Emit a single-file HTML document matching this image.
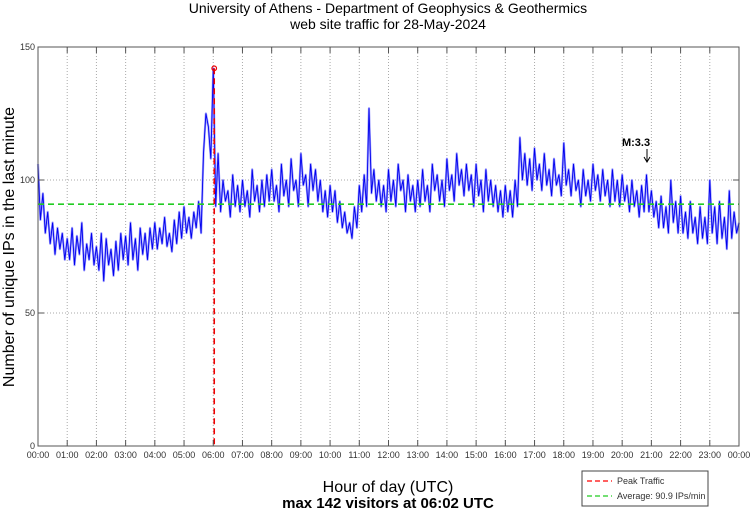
<!DOCTYPE html>
<html><head><meta charset="utf-8"><style>
body{margin:0;background:#fff;width:750px;height:511px;overflow:hidden;font-family:"Liberation Sans",sans-serif}
svg text{font-family:"Liberation Sans",sans-serif}
</style></head><body>
<svg id="chart" width="750" height="511" viewBox="0 0 750 511" xmlns="http://www.w3.org/2000/svg">
<text x="388" y="13" font-size="14" text-anchor="middle" fill="#000">University of Athens - Department of Geophysics &amp; Geothermics</text>
<text x="388" y="29" font-size="14" text-anchor="middle" fill="#000">web site traffic for 28-May-2024</text>
<text transform="translate(14,247) rotate(-90)" font-size="16" text-anchor="middle" fill="#000">Number of unique IPs in the last minute</text>
<text x="388" y="492" font-size="16" text-anchor="middle" fill="#000">Hour of day (UTC)</text>
<text x="388" y="508" font-size="15" font-weight="bold" text-anchor="middle" fill="#000">max 142 visitors at 06:02 UTC</text>
<g id="grid"></g>
<g id="series"></g>
<g id="overlay"></g>
<g id="axes"></g>
<g>
<rect x="582" y="471" width="126" height="35" fill="#fff" stroke="#444" stroke-width="1"/>
<line x1="587" y1="481" x2="612" y2="481" stroke="#f00" stroke-width="1.2" stroke-dasharray="5,3"/>
<text x="617" y="484" font-size="9" fill="#333">Peak Traffic</text>
<line x1="587" y1="496" x2="612" y2="496" stroke="#2c2" stroke-width="1.2" stroke-dasharray="5,3"/>
<text x="617" y="499" font-size="9" fill="#333">Average: 90.9 IPs/min</text>
</g>
<text x="636" y="146" font-size="11" font-weight="bold" text-anchor="middle" fill="#000">M:3.3</text>
<line x1="647" y1="149" x2="647" y2="161" stroke="#000" stroke-width="1"/>
<path d="M644,157 L647,162 L650,157" fill="none" stroke="#000" stroke-width="1"/>
</svg>
<script>
const hourLabels=["00:00","01:00","02:00","03:00","04:00","05:00","06:00","07:00","08:00","09:00","10:00","11:00","12:00","13:00","14:00","15:00","16:00","17:00","18:00","19:00","20:00","21:00","22:00","23:00","00:00"];
const yTicks=[0,50,100,150];
const visitors=[
106,85,95,80,88,76,84,72,82,74,80,70,
78,70,82,68,79,72,84,66,76,70,80,68,
75,66,80,62,78,68,74,64,77,66,80,70,
79,68,84,70,78,66,82,72,80,70,82,74,
84,74,82,76,86,75,80,73,85,76,88,78,
90,80,86,78,88,82,92,80,110,125,120,108,
142,90,110,88,100,92,96,86,102,90,98,88,
100,90,96,86,104,92,98,88,100,90,102,92,
104,92,98,88,106,94,100,90,108,96,100,90,
110,98,102,90,106,96,104,92,100,88,96,86,
98,88,96,84,92,82,88,80,84,78,90,82,
98,88,102,90,127,95,104,92,100,90,98,88,
104,92,100,90,106,96,100,88,102,92,98,88,
100,90,104,92,98,88,106,96,102,92,100,90,
108,96,102,92,110,98,104,94,106,96,102,90,
106,94,100,88,104,92,100,90,98,88,96,86,
98,88,96,86,100,90,116,100,110,98,108,96,
112,100,106,96,110,98,104,94,108,98,102,94,
114,98,104,94,106,96,100,90,104,94,100,92,
106,96,102,92,104,94,100,90,104,92,100,90,
102,92,98,88,100,90,96,86,98,88,102,88,
96,86,92,82,94,82,90,80,100,84,92,80,
94,80,88,78,92,80,86,76,90,78,86,76,
100,80,90,76,92,78,86,74,96,78,88,80,84];
const stepMinutes=5;
const peakValue=142;
const peakHour=6+2/60;
const averageValue=90.9;

const X0=38,X1=739,Y0=446,Y1=47;
const xs=h=>X0+(X1-X0)*h/24;
const ys=v=>Y0-(Y0-Y1)*v/150;
const NS="http://www.w3.org/2000/svg";
function mk(tag,attrs,parent){const e=document.createElementNS(NS,tag);for(const k in attrs)e.setAttribute(k,attrs[k]);parent.appendChild(e);return e;}
const grid=document.getElementById('grid'),axes=document.getElementById('axes'),series=document.getElementById('series'),overlay=document.getElementById('overlay');
hourLabels.forEach((lab,i)=>{
  const x=xs(i);
  if(i>0&&i<24){const g=mk('line',{x1:x,y1:Y1,x2:x,y2:Y0,stroke:'#aaa','stroke-width':1,'stroke-dasharray':'1,2'},grid);
  
  }
  mk('line',{x1:x,y1:Y0,x2:x,y2:Y0-6,stroke:'#555','stroke-width':1},axes);
  mk('line',{x1:x,y1:Y1,x2:x,y2:Y1+6,stroke:'#555','stroke-width':1},axes);
  const t=mk('text',{x:x,y:Y0+12,'font-size':9,'text-anchor':'middle',fill:'#333'},axes);
  t.textContent=lab;
  
  
});
yTicks.forEach(v=>{
  const y=ys(v);
  if(v>0){const g=mk('line',{x1:X0,y1:y,x2:X1,y2:y,stroke:'#aaa','stroke-width':1,'stroke-dasharray':'1,2'},grid);
  
  }
  mk('line',{x1:X0,y1:y,x2:X0+6,y2:y,stroke:'#555','stroke-width':1},axes);
  mk('line',{x1:X1,y1:y,x2:X1-6,y2:y,stroke:'#555','stroke-width':1},axes);
  const t=mk('text',{x:X0-3,y:y+3,'font-size':9,'text-anchor':'end',fill:'#333'},axes);
  t.textContent=v;
  
  
});
const frame=mk('rect',{x:X0,y:Y1,width:X1-X0,height:Y0-Y1,fill:'none',stroke:'#555','stroke-width':1},axes);


const pts=visitors.map((v,i)=>xs(i*stepMinutes/60).toFixed(1)+','+ys(v).toFixed(1)).join(' ');
const halo=mk('polyline',{points:pts,fill:'none',stroke:'#9d9dff','stroke-width':2.2,'stroke-linejoin':'round'},series);


const line=mk('polyline',{points:pts,fill:'none',stroke:'#0000ee','stroke-width':0.9},series);


const avg=mk('line',{x1:X0,y1:ys(averageValue),x2:X1,y2:ys(averageValue),stroke:'#2c2','stroke-width':1.6,'stroke-dasharray':'6,4'},overlay);


const pk=mk('line',{x1:xs(peakHour),y1:ys(peakValue),x2:xs(peakHour),y2:Y0,stroke:'#e00','stroke-width':1.6,'stroke-dasharray':'6,4'},overlay);


const pc=mk('circle',{cx:xs(peakHour),cy:ys(peakValue),r:2.3,fill:'none',stroke:'#e00','stroke-width':1.2},overlay);


</script>
</body></html>
